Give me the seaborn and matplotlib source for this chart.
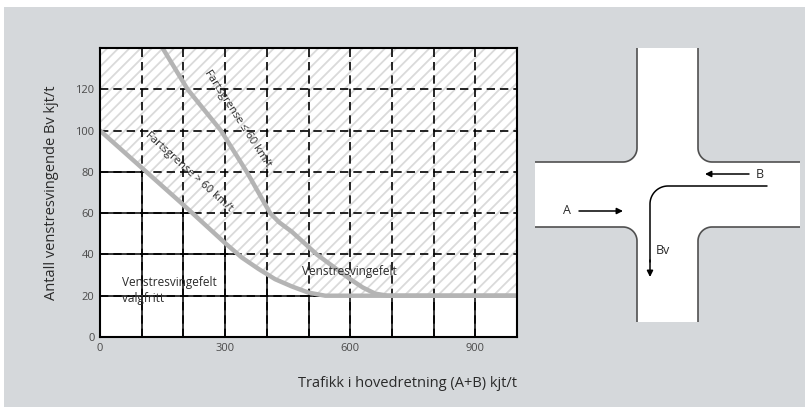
import numpy as np
import pandas as pd
import matplotlib
matplotlib.use("Agg")
import matplotlib.pyplot as plt
import seaborn as sns

# curve data (kjt/t)
lower_x = [0, 100, 200, 300, 340, 380, 420, 460, 500, 540, 1000]
lower_y = [100, 82, 64, 45.5, 38.5, 33, 28, 24.5, 21.5, 20, 20]
upper_x = [150, 210, 290, 352, 408, 430, 460, 520, 560, 600, 630, 660, 690, 1000]
upper_y = [140, 120, 100, 80, 60, 55.5, 51, 40, 34, 28, 24, 21, 20, 20]

x_ticks = [0, 300, 600, 900]
y_ticks = [0, 20, 40, 60, 80, 100, 120]
x_grid = list(range(0, 1001, 100))
y_grid = list(range(0, 141, 20))

bg_col = "#d5d8db"
curve_col = "#b4b4b4"
text_col = "#2a2a2a"

sns.set_style("white")
plt.rcParams["font.family"] = ["Open Sans", "DejaVu Sans"]
plt.rcParams["hatch.linewidth"] = 1.3

fig = plt.figure(figsize=(8.08, 4.09), dpi=100, facecolor="white")

# background panel + crossing sketch, in pixel coordinates
bg = fig.add_axes([0, 0, 1, 1], zorder=0)
bg.set_xlim(0, 808)
bg.set_ylim(409, 0)
bg.set_axis_off()
bg.add_patch(plt.Rectangle((4, 7), 801, 400, color=bg_col, lw=0))

# crossing geometry
hx0, hx1, hy0, hy1 = 535, 800, 162, 227
vx0, vx1, vy0, vy1 = 637, 698, 48, 322
r = 14


def arc(cx, cy, t0, t1, n=20):
    t = np.radians(np.linspace(t0, t1, n))
    return list(zip(cx + r * np.cos(t), cy + r * np.sin(t)))


tl = [(vx0, vy0)] + arc(vx0 - r, hy0 - r, 0, 90) + [(hx0, hy0)]
bl = [(hx0, hy1)] + arc(vx0 - r, hy1 + r, -90, 0) + [(vx0, vy1)]
br = [(vx1, vy1)] + arc(vx1 + r, hy1 + r, 180, 270) + [(hx1, hy1)]
tr = [(hx1, hy0)] + arc(vx1 + r, hy0 - r, 90, 180) + [(vx1, vy0)]
outline = np.array(tl + bl + br + tr)
bg.fill(outline[:, 0], outline[:, 1], color="white", lw=0)
for seg in (tl, bl, br, tr):
    s = np.array(seg)
    bg.plot(s[:, 0], s[:, 1], color="#505050", lw=1.2, solid_capstyle="butt")

arr = dict(arrowstyle="-|>", color="black", lw=1.1, mutation_scale=9, shrinkA=0, shrinkB=0)
bg.annotate("", xy=(623, 211), xytext=(579, 211), arrowprops=arr)
bg.text(567, 211, "A", ha="center", va="center", fontsize=9, color=text_col)
bg.annotate("", xy=(705, 174), xytext=(749, 174), arrowprops=arr)
bg.text(760, 174, "B", ha="center", va="center", fontsize=9, color=text_col)
bv = np.array([(767, 186)] + [(668 + 18 * np.cos(t), 204 + 18 * np.sin(t))
                               for t in np.radians(np.linspace(-90, -180, 20))] + [(650, 262)])
bg.plot(bv[:, 0], bv[:, 1], color="black", lw=1.1)
bg.annotate("", xy=(650, 277), xytext=(650, 260), arrowprops=arr)
bg.text(656, 250, "Bv", ha="left", va="center", fontsize=9, color=text_col)

# main chart
ax = fig.add_axes([100 / 808, 72 / 409, 417 / 808, 289 / 409], zorder=1)
ax.set_facecolor("white")
ax.set_xlim(0, 1000)
ax.set_ylim(0, 140)

for gx in x_grid:
    ax.axvline(gx, color="black", lw=1.1, zorder=1)
for gy in y_grid:
    ax.axhline(gy, color="black", lw=1.1, zorder=1)

lower = pd.DataFrame({"x": lower_x, "y": lower_y})
upper = pd.DataFrame({"x": upper_x, "y": upper_y})

# hatched zone above the lower curve
ax.fill_between(lower["x"], lower["y"], 140, facecolor="white", edgecolor="#dadada",
                hatch="///", lw=0, zorder=2)
for gx in x_grid:
    ax.axvline(gx, color="black", lw=1.2, ls=(0, (5, 3)), zorder=3)
for gy in y_grid:
    ax.axhline(gy, color="black", lw=1.2, ls=(0, (5, 3)), zorder=3)

sns.lineplot(data=lower, x="x", y="y", ax=ax, color=curve_col, lw=3.2, sort=False,
             estimator=None, zorder=4)
sns.lineplot(data=upper, x="x", y="y", ax=ax, color=curve_col, lw=3.2, sort=False,
             estimator=None, zorder=4)

ax.text(214, 80, "Fartsgrense > 60 km/t", rotation=-42, ha="center", va="center",
        fontsize=8, color=text_col, zorder=5)
ax.text(330, 106, "Fartsgrense ≤ 60 km/t", rotation=-57, ha="center", va="center",
        fontsize=8, color=text_col, zorder=5)
ax.text(485, 31.5, "Venstresvingefelt", ha="left", va="center", fontsize=8.5,
        color=text_col, zorder=5)
ax.text(53, 22.5, "Venstresvingefelt\nvalgfritt", ha="left", va="center", fontsize=8.5,
        color=text_col, linespacing=1.3, zorder=5)

ax.set_xticks(x_ticks)
ax.set_yticks(y_ticks)
ax.tick_params(length=0, labelsize=8, labelcolor="#4a4a4a", pad=4)
for sp in ax.spines.values():
    sp.set_visible(True)
    sp.set_color("black")
    sp.set_linewidth(1.5)
    sp.set_zorder(6)

ax.set_xlabel("Trafikk i hovedretning (A+B) kjt/t", fontsize=10.5, color=text_col,
              loc="right", labelpad=16)
ax.set_ylabel("Antall venstresvingende Bv kjt/t", fontsize=10.5, color=text_col,
              labelpad=12)

fig.savefig("out.png", dpi=100, facecolor="white")
